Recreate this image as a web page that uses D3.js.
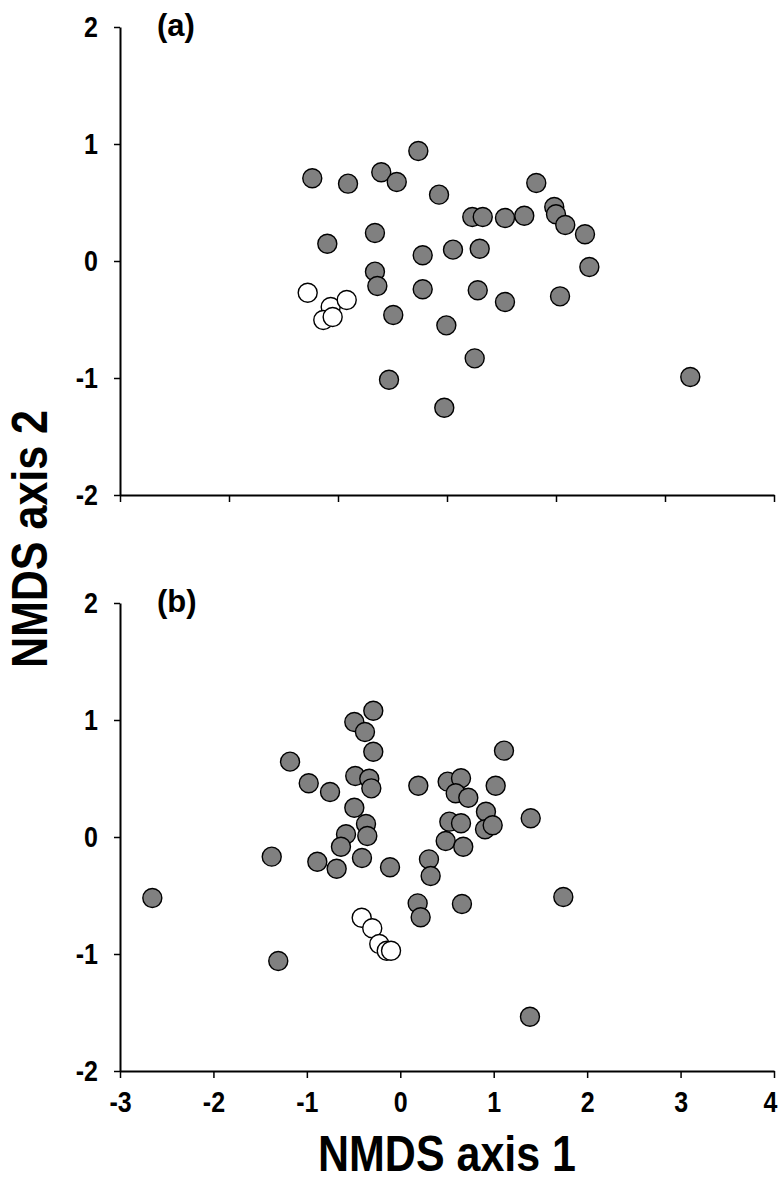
<!DOCTYPE html>
<html>
<head>
<meta charset="utf-8">
<script src="https://cdn.jsdelivr.net/npm/d3@7"></script>
<style>
  body { margin: 0; background: #fff; }
  svg text { font-family: "Liberation Sans", Arial, sans-serif; font-weight: bold; }
</style>
</head>
<body>
<div id="chart"></div>
<script>
// panel (a) points, x on the panel's own -2..4 axis
var aGrayX = [-0.236, 0.092, 0.397, 0.539, 0.737, 0.927, 1.232, 1.328, 1.532, 1.709, 1.819, 1.984, 2.000, 2.085, 2.266,
              -0.098, 0.339, 0.777, 1.055, 1.300, 2.306,
              0.339, 0.361, 0.777, 1.282, 1.532, 2.037,
              0.507, 0.994, 1.254, 0.468, 0.975, 3.232];
var aGrayY = [0.707, 0.661, 0.758, 0.675, 0.940, 0.567, 0.376, 0.376, 0.368, 0.387, 0.667, 0.462, 0.399, 0.308, 0.228,
              0.148, 0.239, 0.049, 0.097, 0.105, -0.051,
              -0.091, -0.214, -0.242, -0.250, -0.350, -0.302,
              -0.462, -0.550, -0.832, -1.015, -1.254, -0.991];
var aOpenX = [-0.278, -0.067, 0.080, -0.135, -0.049];
var aOpenY = [-0.271, -0.393, -0.333, -0.504, -0.479];

// panel (b) points
var bGrayX = [-0.289, -0.492, -0.378, -0.289, -1.180, 1.110, -0.980, -0.752, -0.482, -0.332, -0.310, 0.193, 0.507, 0.650,
              0.593, 0.728, 1.021, -0.492, -0.367, -0.353, -0.581, -0.635, -1.376, -0.888, -0.681, -0.410, -0.110,
              0.525, 0.650, 0.486, 0.674, 0.917, 0.907, 0.989, 1.396, 0.307, 0.325, 0.186, 0.218, 0.660,
              -1.306, 1.745, 1.388, -2.654];
var bGrayY = [1.079, 0.983, 0.897, 0.729, 0.644, 0.738, 0.459, 0.385, 0.521, 0.498, 0.416, 0.438, 0.473, 0.502,
              0.374, 0.336, 0.438, 0.250, 0.111, 0.009, 0.023, -0.083, -0.168, -0.211, -0.271, -0.179, -0.259,
              0.131, 0.117, -0.034, -0.083, 0.216, 0.066, 0.100, 0.160, -0.191, -0.333, -0.567, -0.686, -0.573,
              -1.060, -0.513, -1.536, -0.521];
var bOpenX = [-0.413, -0.300, -0.225, -0.145, -0.099];
var bOpenY = [-0.690, -0.780, -0.915, -0.972, -0.972];

var yTicks = [-2, -1, 0, 1, 2];
var xTicksA = [-2, -1, 0, 1, 2, 3, 4];
var xTicksB = [-3, -2, -1, 0, 1, 2, 3, 4];

var width = 780, height = 1188;
var left = 120, right = 774;
var stretch = 1.15;   // glyphs in the figure are a bit taller than plain bold

var svg = d3.select("#chart").append("svg")
    .attr("width", width)
    .attr("height", height);

function zip(xs, ys) {
    return xs.map(function(x, i) { return {x: x, y: ys[i]}; });
}

// plain hyphen for negatives, like the original figure
var fmt = function(d) { return String(d); };

function drawPanel(opt) {
    var xScale = d3.scaleLinear().domain(opt.xDomain).range([left, right]);
    var yScale = d3.scaleLinear().domain([-2, 2]).range([opt.bottom, opt.top]);

    var g = svg.append("g");

    // y axis
    var yAxis = g.append("g")
        .attr("transform", "translate(" + left + ",0)")
        .call(d3.axisLeft(yScale).tickValues(yTicks).tickFormat(fmt)
            .tickSize(6).tickSizeOuter(0).tickPadding(16));

    // x axis
    var xAxis = g.append("g")
        .attr("transform", "translate(0," + opt.bottom + ")")
        .call(d3.axisBottom(xScale).tickValues(opt.xTicks)
            .tickFormat(opt.showX ? fmt : "")
            .tickSize(7).tickSizeOuter(0).tickPadding(14));

    [yAxis, xAxis].forEach(function(ax) {
        ax.select(".domain").attr("stroke", "#000").attr("stroke-width", 2);
        ax.selectAll(".tick line").attr("stroke", "#000").attr("stroke-width", 1.5);
        ax.selectAll(".tick text")
            .attr("fill", "#000")
            .attr("font-size", "25px")
            .attr("transform", "scale(1," + stretch + ")");
    });
    xAxis.selectAll(".tick text").attr("y", 21 / stretch);
    // keep the last label inside the page
    xAxis.selectAll(".tick text").filter(function(d) { return d === 4; }).attr("dx", -4);

    // panel letter
    g.append("text")
        .attr("x", 157)
        .attr("y", opt.labelY)
        .attr("font-size", "31px")
        .attr("fill", "#000")
        .text(opt.label);

    g.selectAll(".gray")
        .data(zip(opt.grayX, opt.grayY))
        .enter()
        .append("circle")
        .attr("cx", function(d) { return xScale(d.x); })
        .attr("cy", function(d) { return yScale(d.y); })
        .attr("r", 9.5)
        .attr("fill", "#808080")
        .attr("stroke", "#000")
        .attr("stroke-width", 1.4);

    g.selectAll(".open")
        .data(zip(opt.openX, opt.openY))
        .enter()
        .append("circle")
        .attr("cx", function(d) { return xScale(d.x); })
        .attr("cy", function(d) { return yScale(d.y); })
        .attr("r", 9.5)
        .attr("fill", "#fff")
        .attr("stroke", "#000")
        .attr("stroke-width", 1.4);
}

drawPanel({label: "(a)", labelY: 36, top: 27, bottom: 495, xDomain: [-2, 4], xTicks: xTicksA, showX: false,
           grayX: aGrayX, grayY: aGrayY, openX: aOpenX, openY: aOpenY});
drawPanel({label: "(b)", labelY: 612, top: 603, bottom: 1071, xDomain: [-3, 4], xTicks: xTicksB, showX: true,
           grayX: bGrayX, grayY: bGrayY, openX: bOpenX, openY: bOpenY});

// axis titles
svg.append("text")
    .attr("transform", "translate(447,1171) scale(1,1.18)")
    .attr("text-anchor", "middle")
    .attr("font-size", "43px")
    .attr("fill", "#000")
    .text("NMDS axis 1");

svg.append("text")
    .attr("transform", "translate(47,539) scale(1.15,1) rotate(-90)")
    .attr("text-anchor", "middle")
    .attr("font-size", "43px")
    .attr("fill", "#000")
    .text("NMDS axis 2");
</script>
</body>
</html>
